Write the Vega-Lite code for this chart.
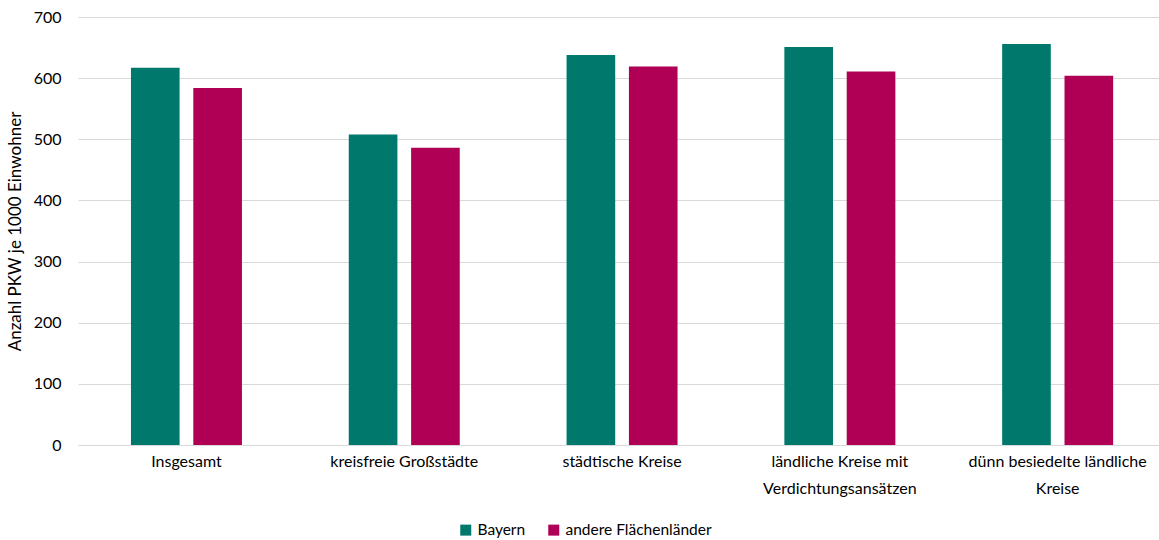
{
  "$schema": "https://vega.github.io/schema/vega-lite/v6.json",
  "width": 1081,
  "height": 428,
  "autosize": "none",
  "padding": {"left": 78, "top": 17, "right": 0, "bottom": 95},
  "background": "white",
  "config": {
    "font": "Lato",
    "view": {"stroke": null},
    "axis": {"labelFont": "Lato", "titleFont": "Lato", "labelColor": "#000000", "titleColor": "#000000"},
    "legend": {"labelFont": "Lato"}
  },
  "data": {
    "values": [
      {"Gebiet": "Insgesamt", "Land": "Bayern", "Wert": 617},
      {"Gebiet": "Insgesamt", "Land": "andere Flächenländer", "Wert": 584},
      {"Gebiet": "kreisfreie Großstädte", "Land": "Bayern", "Wert": 508},
      {"Gebiet": "kreisfreie Großstädte", "Land": "andere Flächenländer", "Wert": 486},
      {"Gebiet": "städtische Kreise", "Land": "Bayern", "Wert": 638},
      {"Gebiet": "städtische Kreise", "Land": "andere Flächenländer", "Wert": 619},
      {"Gebiet": "ländliche Kreise mit Verdichtungsansätzen", "Land": "Bayern", "Wert": 651},
      {"Gebiet": "ländliche Kreise mit Verdichtungsansätzen", "Land": "andere Flächenländer", "Wert": 611},
      {"Gebiet": "dünn besiedelte ländliche Kreise", "Land": "Bayern", "Wert": 656},
      {"Gebiet": "dünn besiedelte ländliche Kreise", "Land": "andere Flächenländer", "Wert": 604}
    ]
  },
  "mark": {"type": "bar"},
  "encoding": {
    "x": {
      "field": "Gebiet",
      "type": "nominal",
      "sort": null,
      "scale": {"paddingInner": 0.4904, "paddingOuter": 0.2268, "align": 0.536},
      "axis": {
        "title": null,
        "labelAngle": 0,
        "labelFontSize": 16,
        "labelPadding": 8,
        "labelLineHeight": 27,
        "labelBaseline": "top",
        "ticks": false,
        "domainColor": "#d9d9d9",
        "domainWidth": 1,
        "labelExpr": "datum.value == 'ländliche Kreise mit Verdichtungsansätzen' ? ['ländliche Kreise mit', 'Verdichtungsansätzen'] : datum.value == 'dünn besiedelte ländliche Kreise' ? ['dünn besiedelte ländliche', 'Kreise'] : datum.value"
      }
    },
    "xOffset": {
      "field": "Land",
      "type": "nominal",
      "sort": ["Bayern", "andere Flächenländer"],
      "scale": {"paddingInner": 0.22, "paddingOuter": 0}
    },
    "y": {
      "field": "Wert",
      "type": "quantitative",
      "scale": {"domain": [0, 700], "nice": false},
      "axis": {
        "title": "Anzahl PKW je 1000 Einwohner",
        "titleFontSize": 17,
        "titleFontWeight": "normal",
        "titlePadding": 9,
        "values": [0, 100, 200, 300, 400, 500, 600, 700],
        "labelOverlap": false,
        "labelFontSize": 16,
        "labelPadding": 17,
        "ticks": false,
        "domain": false,
        "gridColor": "#d9d9d9",
        "gridWidth": 1
      }
    },
    "color": {
      "field": "Land",
      "type": "nominal",
      "sort": ["Bayern", "andere Flächenländer"],
      "scale": {"domain": ["Bayern", "andere Flächenländer"], "range": ["#00786C", "#AF0055"]},
      "legend": {
        "title": null,
        "orient": "none",
        "legendX": 380,
        "legendY": 505,
        "padding": 0,
        "direction": "horizontal",
        "symbolType": "square",
        "symbolSize": 121,
        "symbolStrokeWidth": 0,
        "labelFontSize": 15.5,
        "labelOffset": 4,
        "columnPadding": 20
      }
    }
  }
}
